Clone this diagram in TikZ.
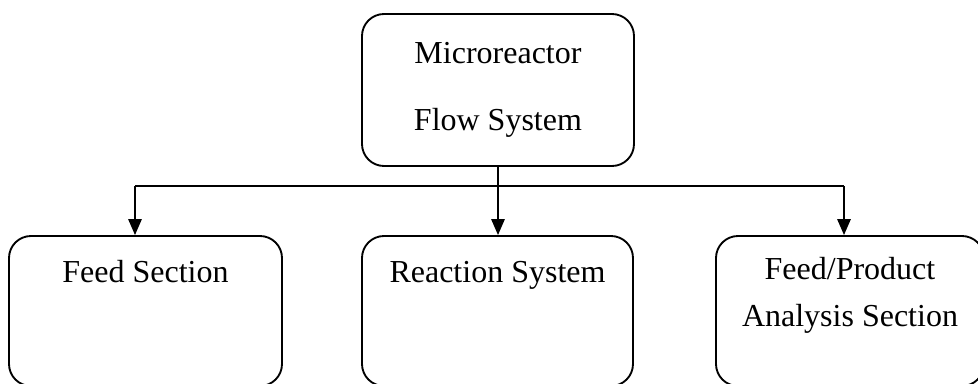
\documentclass[tikz,border=0pt]{standalone}
\usepackage{fontspec}
\setmainfont{Liberation Serif}
\usetikzlibrary{arrows.meta}

\tikzset{
  blockbox/.style={draw, line width=1.4pt, rounded corners=16.5pt, inner sep=0pt, align=center},
  boxtext/.style={align=center, inner sep=0pt, font=\fontsize{24}{35.25}\selectfont},
  arr/.style={-{Triangle[width=10pt,length=12pt]}, line width=1.4pt}
}

\begin{document}
\begin{tikzpicture}[x=0.75pt, y=-0.75pt]
  \useasboundingbox (0,0) rectangle (978,383);
  \clip (0,0) rectangle (978,383);

  % top block
  \node[blockbox, minimum width=204pt, minimum height=114pt, font=\fontsize{24}{50}\selectfont] (mfs) at (498,90) {Microreactor\\Flow System};

  % the three sections
  \node[blockbox, minimum width=204.75pt, minimum height=112.5pt] (feed) at (145.5,311) {};
  \node[blockbox, minimum width=203.25pt, minimum height=112.5pt] (react) at (497.5,311) {};
  \node[blockbox, minimum width=201pt, minimum height=112.5pt] (anal) at (850,311) {};

  \node[boxtext, anchor=base] (feedtxt) at ([yshift=-35.25pt]feed.north) {Feed Section};
  \node[boxtext, anchor=base] (reacttxt) at ([yshift=-35.25pt]react.north) {Reaction System};
  \node[boxtext, anchor=base] (analtxt) at ([yshift=-68.25pt]anal.north) {Feed/Product\\Analysis Section};

  % connectors
  \coordinate (jl) at (135,186);
  \coordinate (jr) at (844,186);
  \draw[line width=1.4pt] (jl) -- (jr);
  \draw[arr] (jl) -- (jl |- feed.north);
  \draw[arr] (jr) -- (jr |- anal.north);
  \draw[arr] (mfs.south) -- (mfs.south |- react.north);
\end{tikzpicture}
\end{document}
